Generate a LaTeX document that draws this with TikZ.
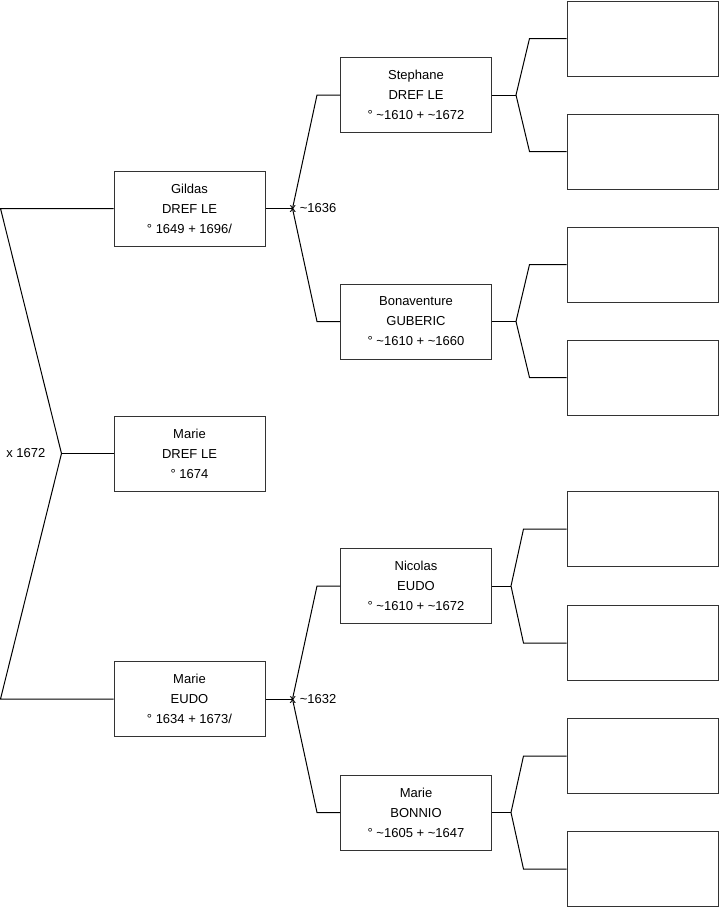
\documentclass[tikz,border=0pt]{standalone}
\usepackage{fontspec}
\setmainfont{Liberation Sans}
\usetikzlibrary{positioning,calc}
\tikzset{
  person/.style={draw=black!80, line width=1pt, minimum width=151pt, minimum height=75pt,
                 align=center, inner sep=0pt, font=\fontsize{13}{20}\selectfont},
  link/.style={line width=1pt},
  union/.style={inner sep=0pt, font=\fontsize{13}{16}\selectfont}
}
\newcommand{\tld}{\textasciitilde}

\begin{document}
\begin{tikzpicture}[x=1pt,y=-1pt]
        \useasboundingbox (0,0) rectangle (719,908);
        % Generation 1
        \node[person] (gildas) at (189.5,208.5) {Gildas\\DREF LE\\° 1649 + 1696/};
        \node[person] (marie)  at (189.5,453.5) {Marie\\DREF LE\\° 1674};
        \node[person] (eudo)   at (189.5,699)   {Marie\\EUDO\\° 1634 + 1673/};
        % Generation 2
        \node[person] (stephane) at (416,95)    {Stephane\\DREF LE\\° \tld1610 + \tld1672};
        \node[person] (bonav)    at (416,321.5) {Bonaventure\\GUBERIC\\° \tld1610 + \tld1660};
        \node[person] (nicolas)  at (416,586)   {Nicolas\\EUDO\\° \tld1610 + \tld1672};
        \node[person] (bonnio)   at (416,812.5) {Marie\\BONNIO\\° \tld1605 + \tld1647};
        % Generation 3 (empty)
        \foreach \i/\y in {1/38.5,2/151.5,3/264.5,4/377.5,5/529,6/643,7/756,8/869} {
            \node[person] (r\i) at (642.5,\y) {};
        }
        % Parents of Marie
        \draw[link] (marie.west) -- ++(-52,0) coordinate (fM);
        \draw[link] (gildas.west) -- ++(-113,0) -- (fM) -- ([xshift=-113pt]eudo.west) -- (eudo.west);
        \node[union, anchor=east] (uM) at ([xshift=-16pt]fM) {x 1672};
        % Parents of Gildas
        \draw[link] (gildas.east) -- ++(27,0) coordinate (fG);
        \draw[link] (stephane.west) -- ++(-23,0) -- (fG) -- ([xshift=-23pt]bonav.west) -- (bonav.west);
        \node[union, anchor=west] (uG) at ([xshift=-3pt]fG) {x \tld1636};
        % Parents of Marie EUDO
        \draw[link] (eudo.east) -- ++(27,0) coordinate (fE);
        \draw[link] (nicolas.west) -- ++(-23,0) -- (fE) -- ([xshift=-23pt]bonnio.west) -- (bonnio.west);
        \node[union, anchor=west] (uE) at ([xshift=-3pt]fE) {x \tld1632};
        % Generation 3 links
        \foreach \p/\a/\b/\d/\s in {stephane/r1/r2/24/37, bonav/r3/r4/24/37,
                                    nicolas/r5/r6/19/43, bonnio/r7/r8/19/43} {
            \draw[link] (\p.east) -- ++(\d,0) coordinate (f\p);
            \draw[link] (\a.west) -- ++(-\s,0) -- (f\p) -- ([xshift=-\s pt]\b.west) -- (\b.west);
        }
\end{tikzpicture}
\end{document}
